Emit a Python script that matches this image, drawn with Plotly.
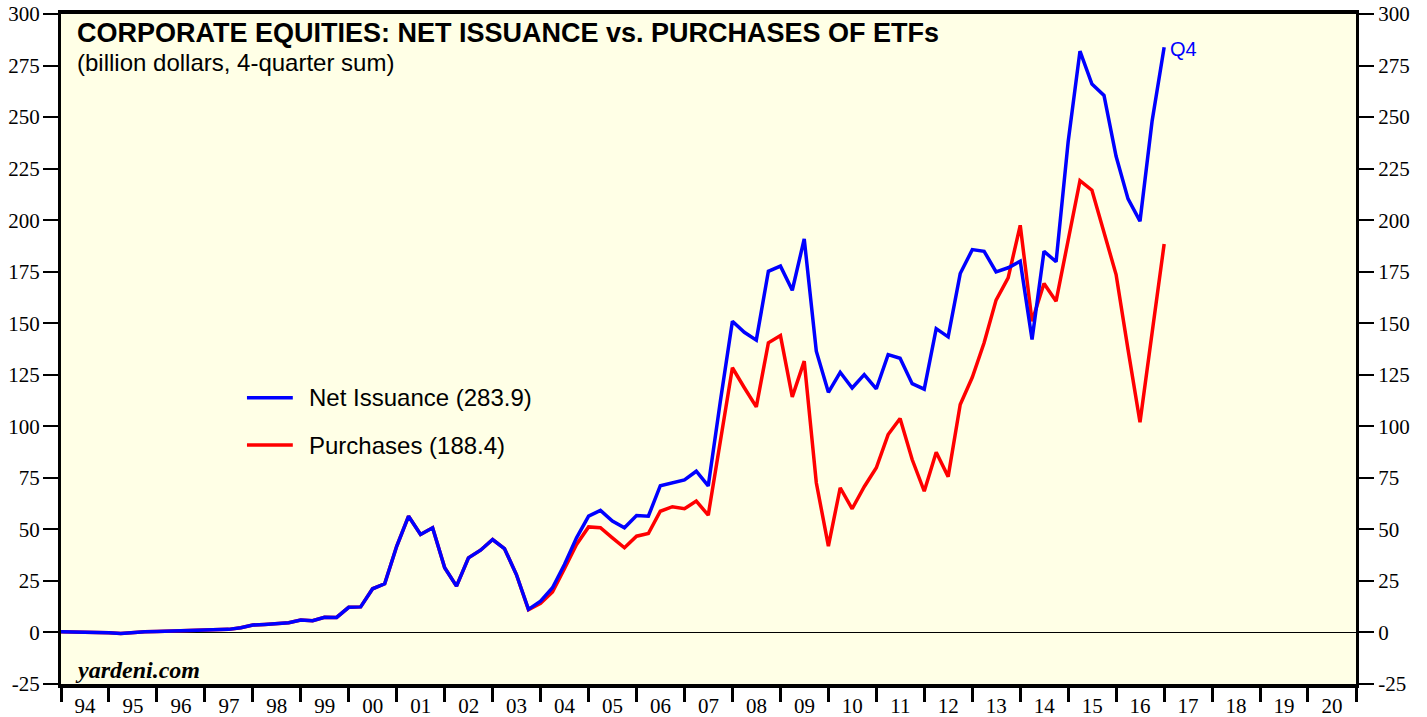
import pandas as pd
import plotly.graph_objects as go

# quarterly, 4-quarter sums, 1993Q4 .. 2016Q4 (billion $)
quarters = pd.period_range("1993Q4", "2016Q4", freq="Q")

net_issuance = [
    0.3, 0.3, 0.0, 0.0, -0.1, -0.5, 0.1, 0.3, 0.5, 0.7,
    0.8, 0.9, 1.2, 1.3, 1.5, 2.3, 3.6, 3.9, 4.2, 4.7,
    6.0, 5.7, 7.4, 7.3, 12.2, 12.4, 21.2, 23.6, 41.9, 56.4,
    47.5, 50.8, 31.4, 22.5, 36.2, 39.9, 45.1, 40.7, 28.1, 11.2,
    15.2, 21.7, 33.0, 45.9, 56.4, 59.2, 54.0, 50.8, 56.7, 56.4,
    71.2, 72.8, 74.0, 78.2, 71.1, 112.0, 151.0, 145.6, 141.8, 175.2,
    177.7, 166.0, 190.9, 136.4, 116.5, 126.2, 118.6, 125.1, 118.2, 134.8,
    133.0, 120.7, 118.0, 147.4, 143.4, 174.1, 185.7, 184.9, 174.9, 176.9,
    180.1, 142.1, 184.9, 179.8, 238.0, 282.0, 266.0, 260.5, 231.0, 210.3,
    199.5, 248.0, 283.9,
]

purchases = [
    0.3, 0.3, 0.0, 0.0, -0.1, -0.5, 0.1, 0.3, 0.5, 0.7,
    0.8, 0.9, 1.2, 1.3, 1.5, 2.3, 3.6, 3.9, 4.2, 4.7,
    6.0, 5.7, 7.4, 7.3, 12.2, 12.4, 21.2, 23.6, 41.9, 56.4,
    47.5, 50.8, 31.4, 22.5, 36.2, 39.9, 45.1, 40.7, 28.1, 11.0,
    14.1, 19.6, 30.9, 42.7, 51.2, 50.8, 45.9, 41.1, 46.7, 48.0,
    58.8, 61.0, 60.0, 63.7, 56.9, 93.0, 128.4, 118.7, 109.4, 140.5,
    144.0, 114.3, 131.6, 72.6, 41.9, 70.2, 60.0, 70.7, 79.9, 96.0,
    103.8, 83.9, 68.5, 87.4, 75.6, 110.6, 123.8, 140.5, 161.2, 172.0,
    197.5, 151.0, 169.3, 160.7, 190.6, 219.2, 214.5, 194.6, 173.6, 137.2,
    102.0, 145.3, 188.4,
]

y_ticks = [-25, 0, 25, 50, 75, 100, 125, 150, 175, 200, 225, 250, 275, 300]
y_tick_text = ["-25", "0", "25", "50", "75", "100", "125", "150", "175", "200",
               "225", "250", "275", "300"]

# plot each quarter at its end
x = (quarters + 1).to_timestamp()

BLUE = "#0000FF"
RED = "#FF0000"
serif = "Liberation Serif"
sans = "Liberation Sans"

fig = go.Figure()
fig.add_trace(go.Scatter(x=x, y=purchases, mode="lines", line=dict(color=RED, width=3.5),
                         showlegend=False))
fig.add_trace(go.Scatter(x=x, y=net_issuance, mode="lines", line=dict(color=BLUE, width=3.5),
                         showlegend=False))
# invisible copy so the right-hand axis gets drawn
fig.add_trace(go.Scatter(x=x, y=net_issuance, yaxis="y2", mode="lines", opacity=0,
                         line=dict(width=0), hoverinfo="skip", showlegend=False))

axis_common = dict(range=[-25, 300], tickvals=y_ticks, ticktext=y_tick_text,
                   ticks="outside", ticklen=15,
                   tickwidth=1.5, tickcolor="black", showgrid=False, automargin=False,
                   ticklabeloverflow="allow",
                   tickfont=dict(family=serif, size=21, color="black"),
                   showline=True, linecolor="black", linewidth=3)

fig.update_layout(
    width=1427, height=717,
    margin=dict(l=61, r=71, t=14, b=33),
    paper_bgcolor="white",
    plot_bgcolor="#FFFFE6",
    xaxis=dict(type="date", range=["1994-01-01", "2021-01-01"], dtick="M12",
               tick0="1994-01-01", ticklabelmode="period", tickformat="%y",
               ticks="outside", ticklen=14, tickwidth=3, tickcolor="black",
               ticklabelstandoff=-14, automargin=False, ticklabeloverflow="allow",
               showgrid=False, showline=True, linecolor="black", linewidth=3.5,
               mirror=True,
               tickfont=dict(family=serif, size=21, color="black")),
    yaxis=dict(side="left", zeroline=True, zerolinecolor="black", zerolinewidth=1.2,
               ticklabelstandoff=-1, **axis_common),
    yaxis2=dict(side="right", overlaying="y", zeroline=False, **axis_common),
)

# legend drawn by hand
legend_items = [("Net Issuance (283.9)", BLUE, 0.4273), ("Purchases (188.4)", RED, 0.3567)]
for label, col, yy in legend_items:
    fig.add_shape(type="line", xref="paper", yref="paper", x0=0.1436, x1=0.179,
                  y0=yy, y1=yy, line=dict(color=col, width=3.5))
    fig.add_annotation(xref="paper", yref="paper", x=0.19, y=yy, text=label,
                       showarrow=False, xanchor="left", yanchor="middle",
                       font=dict(family=sans, size=24, color="black"))

fig.add_annotation(xref="paper", yref="paper", x=0.0108, y=0.9716,
                   text="<b>CORPORATE EQUITIES: NET ISSUANCE vs. PURCHASES OF ETFs</b>",
                   showarrow=False, xanchor="left", yanchor="middle",
                   font=dict(family=sans, size=27, color="black"))
fig.add_annotation(xref="paper", yref="paper", x=0.0108, y=0.928,
                   text="(billion dollars, 4-quarter sum)",
                   showarrow=False, xanchor="left", yanchor="middle",
                   font=dict(family=sans, size=24, color="black"))
fig.add_annotation(xref="paper", yref="paper", x=0.0093, y=0.021,
                   text="<b><i>yardeni.com</i></b>",
                   showarrow=False, xanchor="left", yanchor="middle",
                   font=dict(family=serif, size=24, color="black"))
fig.add_annotation(x=x[-1], y=net_issuance[-1], text="Q4", showarrow=False,
                   xanchor="left", yanchor="middle", xshift=4, yshift=-2,
                   font=dict(family=sans, size=20, color=BLUE))

# drop the browser's default body margin so the figure fills the window
fig.write_html("out.html", config={"displayModeBar": False},
               post_script="document.body.style.margin='0px';")
